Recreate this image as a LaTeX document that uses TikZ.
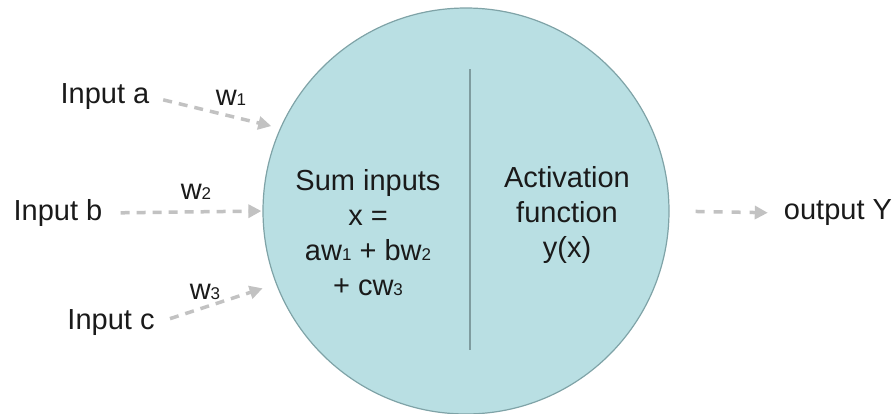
\documentclass[tikz,border=0pt]{standalone}
\usepackage{fontspec}
\setmainfont{Liberation Sans}
\usetikzlibrary{positioning,arrows.meta,calc}

\definecolor{cellfill}{HTML}{B9DFE3}
\definecolor{celledge}{HTML}{7FA3A7}
\definecolor{wiregray}{HTML}{C2C2C2}
\definecolor{txt}{HTML}{1A1A1A}

% small digit set on the baseline
\newcommand{\sdig}[1]{{\fontsize{17}{17}\selectfont #1}}

\begin{document}
\begin{tikzpicture}[
    x=1pt, y=-1pt,
    every node/.style={font=\fontsize{29}{35}\selectfont, text=txt},
    cell/.style={circle, draw=celledge, line width=1.2pt, fill=cellfill, minimum size=406pt, inner sep=0pt},
    lbl/.style={align=center, inner sep=2pt},
    wire/.style={-{Triangle[length=13pt, width=13pt]}, draw=wiregray, line width=3.5pt, dash pattern=on 9pt off 7pt},
    outwire/.style={-{Triangle[length=13pt, width=13pt]}, draw=wiregray, line width=3.5pt, dash pattern=on 9pt off 9pt}
]
\useasboundingbox (0,0) rectangle (896,413);

\node[cell] (neuron) at (466,211) {};
\draw[celledge!80!gray, line width=1.5pt] (470,69) coordinate (divtop) -- (470,350) coordinate (divbot);

\node[lbl] (sum) at (368,233) {Sum inputs\\x =\\aw\sdig{1} + bw\sdig{2}\\+ cw\sdig{3}};
\node[lbl] (act) at (567,215) {Activation\\function\\y(x)};

\node[lbl] (inA) at (105,97) {Input a};
\node[lbl] (inB) at (58,213) {Input b};
\node[lbl] (inC) at (111,323) {Input c};
\node[lbl] (out) at (838,213) {output Y};

\node[lbl] (wA) at (231,98) {w\sdig{1}};
\node[lbl] (wB) at (196,192) {w\sdig{2}};
\node[lbl] (wC) at (205,292) {w\sdig{3}};

\draw[wire, shorten <=12pt, shorten >=9pt] (inA.east) -- (neuron.156.6);
\draw[wire, shorten <=16pt, shorten >=1pt] (inB.east) -- (neuron.west);
\draw[wire, shorten <=14pt, shorten >=14pt] (inC.east) -- (neuron.201.5);
\draw[outwire, shorten <=26pt, shorten >=14pt] (neuron.east) -- (out.west);
\end{tikzpicture}
\end{document}
